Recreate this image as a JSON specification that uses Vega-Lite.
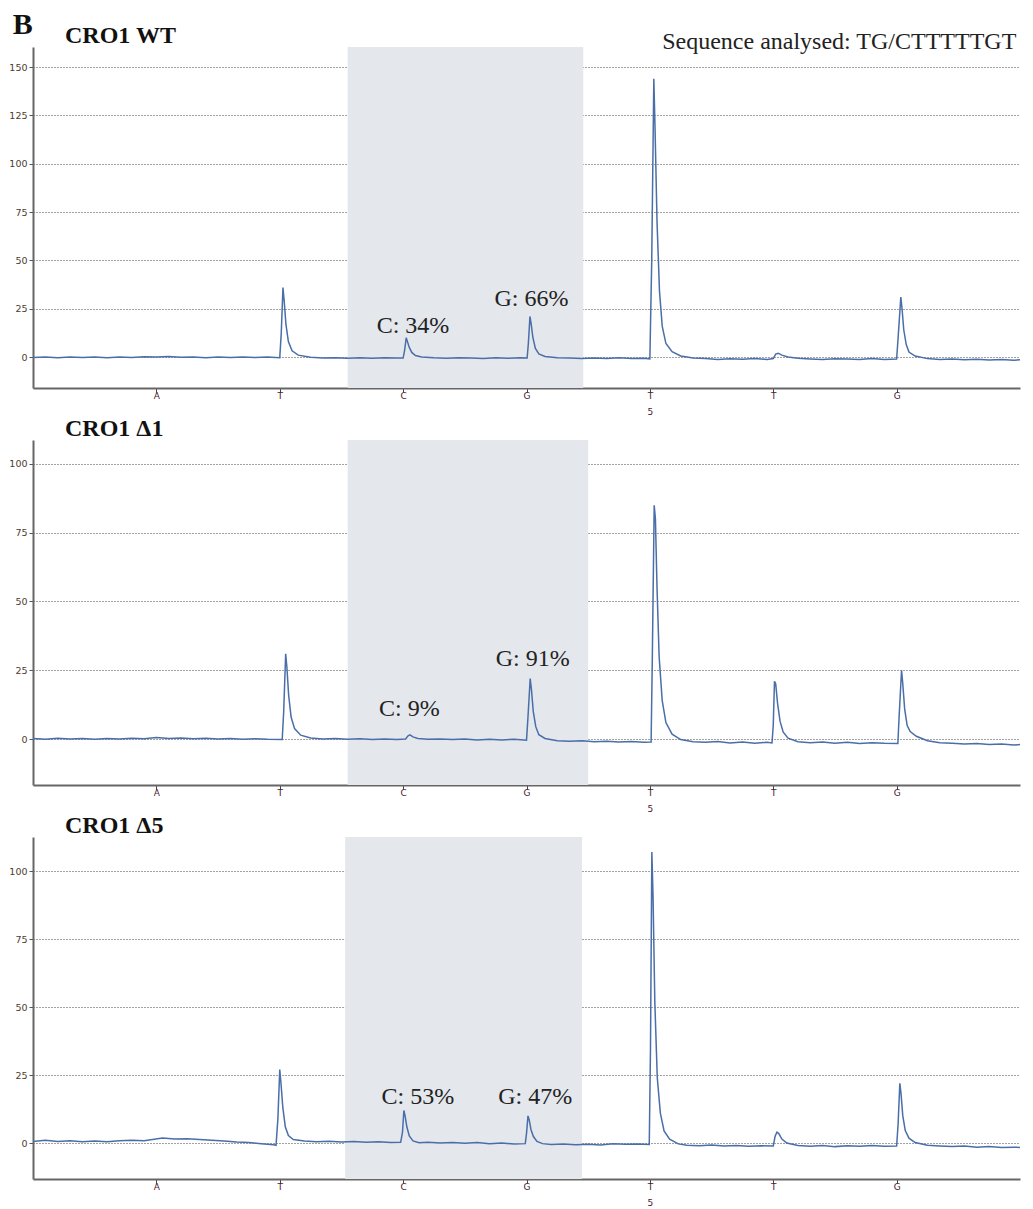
{
  "$schema": "https://vega.github.io/schema/vega-lite/v6.json",
  "background": "white",
  "padding": {"left": 8, "top": 9, "right": 5, "bottom": 2},
  "title": {"text": "B", "anchor": "start", "frame": "bounds", "dx": 4, "font": "Liberation Serif", "fontSize": 30, "fontWeight": "bold", "color": "#111111", "offset": -16},
  "config": {
    "view": {"stroke": null},
    "title": {"frame": "group"},
    "axisY": {"grid": true, "gridDash": [1, 2], "gridColor": "#444444", "gridWidth": 1, "domainColor": "#666666", "domainWidth": 2, "tickColor": "#555555", "tickSize": 4, "labelFont": "DejaVu Sans", "labelFontSize": 9.5, "labelColor": "#4d3b2f", "labelPadding": 2, "title": null},
    "axisX": {"grid": false, "domainColor": "#666666", "domainWidth": 2, "tickColor": "#444444", "tickSize": 4, "labelFont": "DejaVu Sans", "labelFontSize": 9, "labelColor": "#4a2030", "labelLineHeight": 16, "labelPadding": -1, "title": null}
  },
  "datasets": {
    "wt": [
      {"x":0.0,"y":-0.2},{"x":0.1,"y":0.1},{"x":0.2,"y":-0.3},{"x":0.3,"y":0.0},{"x":0.4,"y":-0.2},{"x":0.5,"y":0.1},{"x":0.6,"y":-0.3},{"x":0.7,"y":0.0},{"x":0.8,"y":-0.2},{"x":0.9,"y":0.2},{"x":1.0,"y":0.0},{"x":1.1,"y":0.3},{"x":1.2,"y":-0.1},{"x":1.3,"y":0.1},{"x":1.4,"y":-0.3},{"x":1.5,"y":0.0},{"x":1.6,"y":-0.2},{"x":1.7,"y":0.1},{"x":1.8,"y":-0.2},{"x":1.9,"y":0.0},{"x":2.0,"y":-0.3},
      {"x":2.012,"y":12},{"x":2.026,"y":36},{"x":2.036,"y":29},{"x":2.05,"y":17},{"x":2.07,"y":8},{"x":2.1,"y":3.2},{"x":2.15,"y":1.0},{"x":2.25,"y":-0.1},{"x":2.35,"y":-0.5},{"x":2.45,"y":-0.3},{"x":2.55,"y":-0.6},{"x":2.65,"y":-0.4},{"x":2.75,"y":-0.6},{"x":2.85,"y":-0.3},{"x":2.95,"y":-0.5},{"x":3.0,"y":-0.5},
      {"x":3.012,"y":3.5},{"x":3.025,"y":10},{"x":3.035,"y":8},{"x":3.05,"y":5},{"x":3.07,"y":2.4},{"x":3.1,"y":0.8},{"x":3.15,"y":0},{"x":3.25,"y":-0.4},{"x":3.35,"y":-0.6},{"x":3.45,"y":-0.3},{"x":3.55,"y":-0.5},{"x":3.65,"y":-0.7},{"x":3.75,"y":-0.4},{"x":3.85,"y":-0.6},{"x":3.95,"y":-0.4},{"x":4.005,"y":-0.5},
      {"x":4.015,"y":7},{"x":4.028,"y":21},{"x":4.038,"y":17},{"x":4.052,"y":10},{"x":4.072,"y":4.5},{"x":4.1,"y":1.6},{"x":4.15,"y":0.3},{"x":4.25,"y":-0.4},{"x":4.35,"y":-0.5},{"x":4.45,"y":-0.8},{"x":4.55,"y":-0.5},{"x":4.65,"y":-0.7},{"x":4.75,"y":-0.4},{"x":4.85,"y":-0.8},{"x":4.95,"y":-0.6},{"x":5.0,"y":-0.9},
      {"x":5.015,"y":50},{"x":5.032,"y":144},{"x":5.042,"y":118},{"x":5.058,"y":70},{"x":5.078,"y":34},{"x":5.1,"y":16},{"x":5.13,"y":7},{"x":5.18,"y":2.8},{"x":5.25,"y":0.6},{"x":5.35,"y":-0.5},{"x":5.45,"y":-0.8},{"x":5.55,"y":-1.2},{"x":5.65,"y":-0.9},{"x":5.75,"y":-1.1},{"x":5.85,"y":-0.8},{"x":5.95,"y":-1.2},{"x":6.0,"y":-0.8},
      {"x":6.02,"y":1.5},{"x":6.04,"y":2},{"x":6.07,"y":1},{"x":6.12,"y":0},{"x":6.2,"y":-0.6},{"x":6.3,"y":-1.0},{"x":6.4,"y":-1.3},{"x":6.5,"y":-0.9},{"x":6.6,"y":-1.0},{"x":6.7,"y":-1.3},{"x":6.8,"y":-0.8},{"x":6.9,"y":-1.2},{"x":7.0,"y":-1.0},
      {"x":7.012,"y":10},{"x":7.034,"y":31},{"x":7.044,"y":25},{"x":7.058,"y":14},{"x":7.078,"y":6.5},{"x":7.1,"y":2.6},{"x":7.15,"y":0.5},{"x":7.25,"y":-0.8},{"x":7.35,"y":-1.2},{"x":7.45,"y":-1.0},{"x":7.55,"y":-1.4},{"x":7.65,"y":-1.1},{"x":7.75,"y":-1.5},{"x":7.85,"y":-1.3},{"x":7.95,"y":-1.6},{"x":8.0,"y":-1.4}
    ],
    "d1": [
      {"x":0.0,"y":0.2},{"x":0.1,"y":-0.1},{"x":0.2,"y":0.3},{"x":0.3,"y":0.0},{"x":0.4,"y":0.2},{"x":0.5,"y":-0.1},{"x":0.6,"y":0.2},{"x":0.7,"y":0.0},{"x":0.8,"y":0.3},{"x":0.9,"y":0.1},{"x":1.0,"y":0.6},{"x":1.1,"y":0.2},{"x":1.2,"y":0.4},{"x":1.3,"y":0.1},{"x":1.4,"y":0.3},{"x":1.5,"y":0.0},{"x":1.6,"y":0.2},{"x":1.7,"y":-0.1},{"x":1.8,"y":0.1},{"x":1.9,"y":-0.1},{"x":2.02,"y":-0.2},
      {"x":2.032,"y":10},{"x":2.048,"y":31},{"x":2.058,"y":26},{"x":2.072,"y":16},{"x":2.092,"y":8},{"x":2.12,"y":3.8},{"x":2.17,"y":1.4},{"x":2.25,"y":0.4},{"x":2.35,"y":0.0},{"x":2.45,"y":0.2},{"x":2.55,"y":-0.1},{"x":2.65,"y":0.1},{"x":2.75,"y":-0.2},{"x":2.85,"y":0.0},{"x":2.95,"y":-0.2},{"x":3.02,"y":0.0},
      {"x":3.04,"y":1.2},{"x":3.055,"y":1.5},{"x":3.08,"y":0.8},{"x":3.12,"y":0.2},{"x":3.2,"y":-0.1},{"x":3.3,"y":0.0},{"x":3.4,"y":-0.2},{"x":3.5,"y":0.0},{"x":3.6,"y":-0.3},{"x":3.7,"y":-0.1},{"x":3.8,"y":-0.3},{"x":3.9,"y":-0.1},{"x":4.0,"y":-0.4},
      {"x":4.012,"y":8},{"x":4.03,"y":22},{"x":4.04,"y":18},{"x":4.055,"y":10},{"x":4.075,"y":4.5},{"x":4.1,"y":1.6},{"x":4.15,"y":0.2},{"x":4.25,"y":-0.6},{"x":4.35,"y":-0.8},{"x":4.45,"y":-0.6},{"x":4.55,"y":-1.0},{"x":4.65,"y":-0.8},{"x":4.75,"y":-1.1},{"x":4.85,"y":-0.9},{"x":4.95,"y":-1.2},{"x":5.01,"y":-1.1},
      {"x":5.02,"y":30},{"x":5.035,"y":85},{"x":5.045,"y":80},{"x":5.058,"y":55},{"x":5.075,"y":30},{"x":5.1,"y":14},{"x":5.13,"y":6},{"x":5.18,"y":1.8},{"x":5.25,"y":-0.2},{"x":5.35,"y":-1.0},{"x":5.45,"y":-1.2},{"x":5.55,"y":-0.9},{"x":5.65,"y":-1.4},{"x":5.75,"y":-1.1},{"x":5.85,"y":-1.5},{"x":5.95,"y":-1.2},{"x":5.99,"y":-1.4},
      {"x":6.0,"y":5},{"x":6.01,"y":21},{"x":6.02,"y":20},{"x":6.035,"y":13},{"x":6.055,"y":6.5},{"x":6.08,"y":2.6},{"x":6.12,"y":0.3},{"x":6.2,"y":-1.0},{"x":6.3,"y":-1.3},{"x":6.4,"y":-1.1},{"x":6.5,"y":-1.5},{"x":6.6,"y":-1.2},{"x":6.7,"y":-1.6},{"x":6.8,"y":-1.3},{"x":6.9,"y":-1.5},{"x":7.01,"y":-1.6},
      {"x":7.02,"y":8},{"x":7.04,"y":25},{"x":7.05,"y":20},{"x":7.065,"y":11},{"x":7.085,"y":5},{"x":7.11,"y":2.7},{"x":7.16,"y":1},{"x":7.25,"y":-0.6},{"x":7.35,"y":-1.3},{"x":7.45,"y":-1.5},{"x":7.55,"y":-1.8},{"x":7.65,"y":-1.6},{"x":7.75,"y":-2.0},{"x":7.85,"y":-1.8},{"x":7.95,"y":-2.2},{"x":8.0,"y":-2.0}
    ],
    "d5": [
      {"x":0.0,"y":0.6},{"x":0.1,"y":1.0},{"x":0.2,"y":0.6},{"x":0.3,"y":0.9},{"x":0.4,"y":0.5},{"x":0.5,"y":0.8},{"x":0.6,"y":0.5},{"x":0.7,"y":0.9},{"x":0.8,"y":1.0},{"x":0.9,"y":0.9},{"x":1.05,"y":1.9},{"x":1.15,"y":1.5},{"x":1.25,"y":1.6},{"x":1.35,"y":1.3},{"x":1.45,"y":1.0},{"x":1.55,"y":0.8},{"x":1.65,"y":0.4},{"x":1.75,"y":0.2},{"x":1.85,"y":-0.2},{"x":1.95,"y":-0.6},{"x":1.97,"y":-0.8},
      {"x":1.985,"y":9},{"x":2.0,"y":27},{"x":2.01,"y":22},{"x":2.025,"y":13},{"x":2.045,"y":6},{"x":2.07,"y":2.8},{"x":2.11,"y":1.3},{"x":2.2,"y":0.8},{"x":2.3,"y":0.5},{"x":2.4,"y":0.7},{"x":2.5,"y":0.4},{"x":2.6,"y":0.6},{"x":2.7,"y":0.3},{"x":2.8,"y":0.5},{"x":2.9,"y":0.2},{"x":2.98,"y":0.3},
      {"x":2.995,"y":4},{"x":3.006,"y":12},{"x":3.016,"y":10},{"x":3.03,"y":6},{"x":3.05,"y":2.6},{"x":3.08,"y":0.8},{"x":3.13,"y":0.1},{"x":3.2,"y":0.3},{"x":3.3,"y":0.0},{"x":3.4,"y":0.2},{"x":3.5,"y":-0.1},{"x":3.6,"y":0.2},{"x":3.7,"y":-0.2},{"x":3.8,"y":0.0},{"x":3.9,"y":-0.3},{"x":3.99,"y":-0.2},
      {"x":4.0,"y":3.5},{"x":4.012,"y":10},{"x":4.022,"y":8.5},{"x":4.036,"y":5},{"x":4.056,"y":2.4},{"x":4.085,"y":0.6},{"x":4.13,"y":-0.2},{"x":4.2,"y":-0.5},{"x":4.3,"y":-0.3},{"x":4.4,"y":-0.6},{"x":4.5,"y":-0.4},{"x":4.6,"y":-0.7},{"x":4.7,"y":-0.2},{"x":4.8,"y":-0.4},{"x":4.9,"y":-0.3},{"x":4.995,"y":-0.5},
      {"x":5.005,"y":35},{"x":5.016,"y":107},{"x":5.026,"y":90},{"x":5.04,"y":52},{"x":5.06,"y":24},{"x":5.085,"y":11},{"x":5.115,"y":4.5},{"x":5.16,"y":1.4},{"x":5.23,"y":-0.3},{"x":5.3,"y":-0.8},{"x":5.4,"y":-1.0},{"x":5.5,"y":-0.7},{"x":5.6,"y":-1.1},{"x":5.7,"y":-0.9},{"x":5.8,"y":-1.2},{"x":5.9,"y":-1.0},{"x":6.0,"y":-1.1},
      {"x":6.015,"y":2.5},{"x":6.03,"y":4},{"x":6.045,"y":3.5},{"x":6.07,"y":1.5},{"x":6.11,"y":0},{"x":6.2,"y":-0.9},{"x":6.3,"y":-1.2},{"x":6.4,"y":-0.9},{"x":6.5,"y":-1.3},{"x":6.6,"y":-1.0},{"x":6.7,"y":-1.2},{"x":6.8,"y":-0.9},{"x":6.9,"y":-1.2},{"x":7.0,"y":-1.1},
      {"x":7.012,"y":7},{"x":7.026,"y":22},{"x":7.036,"y":18},{"x":7.05,"y":10},{"x":7.07,"y":4.6},{"x":7.1,"y":1.8},{"x":7.15,"y":0.2},{"x":7.25,"y":-0.8},{"x":7.35,"y":-1.1},{"x":7.45,"y":-1.3},{"x":7.55,"y":-1.1},{"x":7.65,"y":-1.5},{"x":7.75,"y":-1.3},{"x":7.85,"y":-1.6},{"x":7.95,"y":-1.5},{"x":8.0,"y":-1.6}
    ]
  },
  "bounds": "flush",
  "spacing": 52,
  "vconcat": [
    {
      "width": 987, "height": 341,
      "title": {"text": "CRO1 WT", "anchor": "start", "frame": "group", "dx": 32, "font": "Liberation Serif", "fontSize": 24, "fontWeight": "bold", "color": "#111111", "offset": -37, "baseline": "alphabetic"},
      "layer": [
        {"data": {"values": [{"x0": 2.55, "x1": 4.46}]}, "mark": {"type": "rect", "color": "#e4e7ec"},
         "encoding": {"x": {"field": "x0", "type": "quantitative", "scale": {"domain": [0, 8]}}, "x2": {"field": "x1"}}},
        {"data": {"name": "wt"}, "mark": {"type": "line", "color": "#4a6ea8", "strokeWidth": 1.5},
         "encoding": {
           "x": {"field": "x", "type": "quantitative", "scale": {"domain": [0, 8], "nice": false, "zero": false},
                 "axis": {"values": [1,2,3,4,5,6,7], "labelExpr": "datum.value == 5 ? ['T','5'] : ['','A','T','C','G','T','T','G'][datum.value]"}},
           "y": {"field": "y", "type": "quantitative", "scale": {"domain": [-16, 160.4], "nice": false, "zero": false},
                 "axis": {"values": [0,25,50,75,100,125,150]}}}},
        {"data": {"values": [{"x": 3.08, "y": 16.0, "label": "C: 34%"}, {"x": 4.04, "y": 30.0, "label": "G: 66%"}]},
         "mark": {"type": "text", "font": "Liberation Serif", "fontSize": 24, "color": "#222222", "baseline": "middle"},
         "encoding": {"x": {"field": "x", "type": "quantitative"}, "y": {"field": "y", "type": "quantitative"}, "text": {"field": "label"}}},
        {"data": {"values": [{"x": 7.97, "y": 159.4, "label": "Sequence analysed: TG/CTTTTTGT"}]},
         "mark": {"type": "text", "font": "Liberation Serif", "fontSize": 24, "color": "#222222", "align": "right", "baseline": "alphabetic"},
         "encoding": {"x": {"field": "x", "type": "quantitative"}, "y": {"field": "y", "type": "quantitative"}, "text": {"field": "label"}}}
      ]
    },
    {
      "width": 987, "height": 345,
      "title": {"text": "CRO1 Δ1", "anchor": "start", "frame": "group", "dx": 32, "font": "Liberation Serif", "fontSize": 24, "fontWeight": "bold", "color": "#111111", "offset": -20, "baseline": "alphabetic"},
      "layer": [
        {"data": {"values": [{"x0": 2.55, "x1": 4.5}]}, "mark": {"type": "rect", "color": "#e4e7ec"},
         "encoding": {"x": {"field": "x0", "type": "quantitative", "scale": {"domain": [0, 8]}}, "x2": {"field": "x1"}}},
        {"data": {"name": "d1"}, "mark": {"type": "line", "color": "#4a6ea8", "strokeWidth": 1.5},
         "encoding": {
           "x": {"field": "x", "type": "quantitative", "scale": {"domain": [0, 8], "nice": false, "zero": false},
                 "axis": {"values": [1,2,3,4,5,6,7], "labelExpr": "datum.value == 5 ? ['T','5'] : ['','A','T','C','G','T','T','G'][datum.value]"}},
           "y": {"field": "y", "type": "quantitative", "scale": {"domain": [-16.7, 108.7], "nice": false, "zero": false},
                 "axis": {"values": [0,25,50,75,100]}}}},
        {"data": {"values": [{"x": 3.05, "y": 10.9, "label": "C: 9%"}, {"x": 4.05, "y": 29, "label": "G: 91%"}]},
         "mark": {"type": "text", "font": "Liberation Serif", "fontSize": 24, "color": "#222222", "baseline": "middle"},
         "encoding": {"x": {"field": "x", "type": "quantitative"}, "y": {"field": "y", "type": "quantitative"}, "text": {"field": "label"}}}
      ]
    },
    {
      "width": 987, "height": 342,
      "title": {"text": "CRO1 Δ5", "anchor": "start", "frame": "group", "dx": 32, "font": "Liberation Serif", "fontSize": 24, "fontWeight": "bold", "color": "#111111", "offset": -20, "baseline": "alphabetic"},
      "layer": [
        {"data": {"values": [{"x0": 2.53, "x1": 4.45}]}, "mark": {"type": "rect", "color": "#e4e7ec"},
         "encoding": {"x": {"field": "x0", "type": "quantitative", "scale": {"domain": [0, 8]}}, "x2": {"field": "x1"}}},
        {"data": {"name": "d5"}, "mark": {"type": "line", "color": "#4a6ea8", "strokeWidth": 1.5},
         "encoding": {
           "x": {"field": "x", "type": "quantitative", "scale": {"domain": [0, 8], "nice": false, "zero": false},
                 "axis": {"values": [1,2,3,4,5,6,7], "labelExpr": "datum.value == 5 ? ['T','5'] : ['','A','T','C','G','T','T','G'][datum.value]"}},
           "y": {"field": "y", "type": "quantitative", "scale": {"domain": [-13.2, 112.5], "nice": false, "zero": false},
                 "axis": {"values": [0,25,50,75,100]}}}},
        {"data": {"values": [{"x": 3.12, "y": 16.9, "label": "C: 53%"}, {"x": 4.07, "y": 16.9, "label": "G: 47%"}]},
         "mark": {"type": "text", "font": "Liberation Serif", "fontSize": 24, "color": "#222222", "baseline": "middle"},
         "encoding": {"x": {"field": "x", "type": "quantitative"}, "y": {"field": "y", "type": "quantitative"}, "text": {"field": "label"}}}
      ]
    }
  ]
}
